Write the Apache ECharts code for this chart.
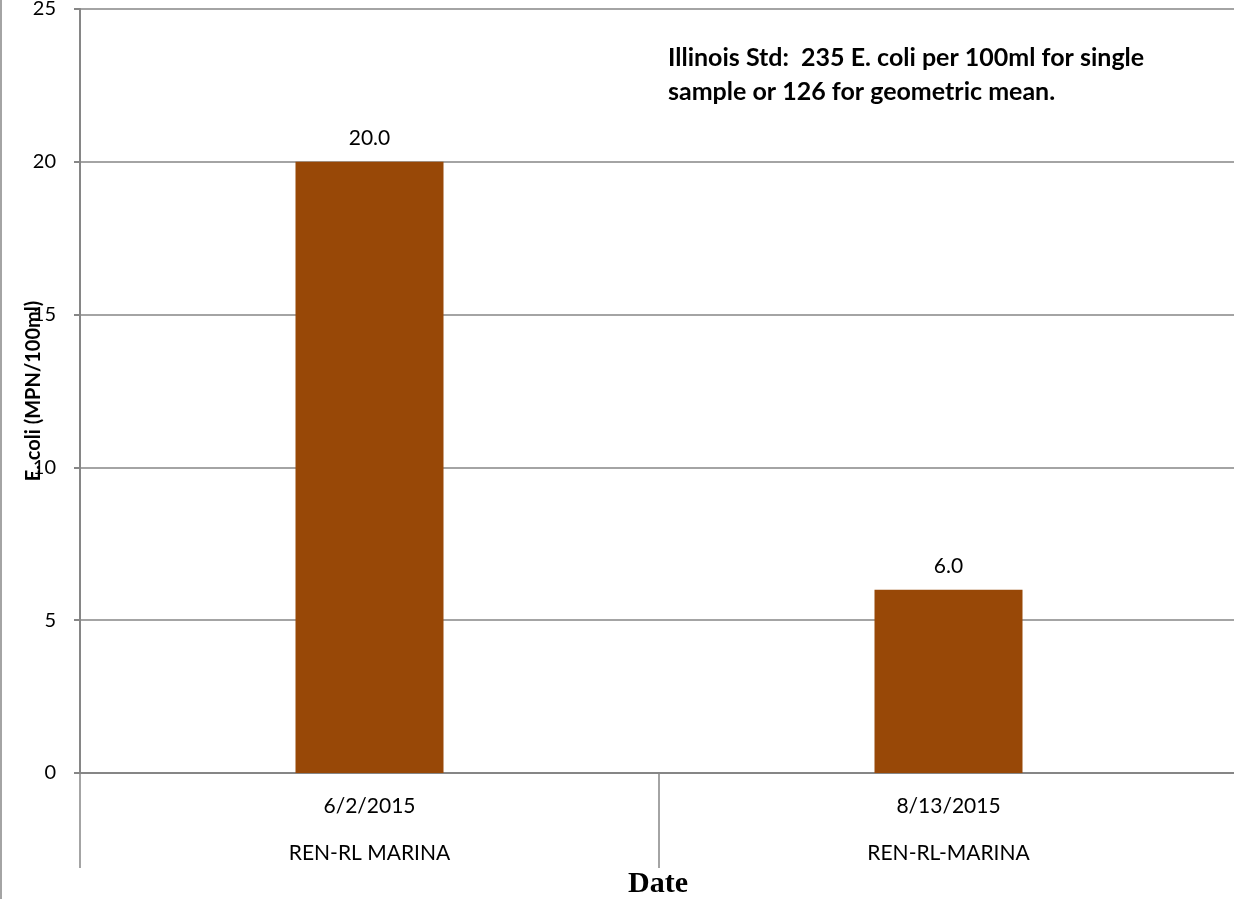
<!DOCTYPE html>
<html>
<head>
<meta charset="utf-8">
<script src="https://cdn.jsdelivr.net/npm/echarts@6/dist/echarts.min.js"></script>
<style>html,body{margin:0;padding:0;background:#fff;}#c{width:1234px;height:899px;}</style>
</head>
<body>
<div id="c"></div>
<script>
const dates = ['6/2/2015', '8/13/2015'];
const sites = ['REN-RL MARINA', 'REN-RL-MARINA'];
const ecoli = [20.0, 6.0];
const yTicks = [0, 5, 10, 15, 20, 25];
const yName = 'E. coli (MPN/100ml)';
const xName = 'Date';
const note = 'Illinois Std:  235 E. coli per 100ml for single\nsample or 126 for geometric mean.';

const font = 'Lato, "Open Sans", sans-serif';
const chart = echarts.init(document.getElementById('c'), null, {renderer: 'canvas'});
chart.setOption({
  animation: false,
  backgroundColor: '#fff',
  grid: {left: 80, right: -4, top: 9, bottom: 126, containLabel: false, outerBoundsMode: 'none'},
  xAxis: {
    type: 'category',
    data: dates,
    axisLine: {show: true, lineStyle: {color: '#868686', width: 2}},
    axisTick: {show: true, interval: 0, alignWithLabel: false, length: 95, lineStyle: {color: '#868686', width: 1.5}},
    axisLabel: {
      interval: 0, margin: 10,
      formatter: (v, i) => '{d|' + v + '}\n{s|' + sites[i] + '}',
      rich: {
        d: {fontFamily: font, fontSize: 21, color: '#000', lineHeight: 47},
        s: {fontFamily: font, fontSize: 21, color: '#000', lineHeight: 47}
      }
    }
  },
  yAxis: {
    type: 'value', min: yTicks[0], max: yTicks[yTicks.length - 1], interval: 5,
    name: yName, nameLocation: 'middle', nameGap: 36, nameRotate: 90, nameMoveOverlap: false,
    nameTextStyle: {fontFamily: font, fontSize: 20, fontWeight: 'bold', color: '#000'},
    axisLine: {show: true, lineStyle: {color: '#868686', width: 2}},
    axisTick: {show: true, length: 6, lineStyle: {color: '#868686', width: 2}},
    axisLabel: {fontFamily: font, fontSize: 20, color: '#000', margin: 24},
    splitLine: {show: true, lineStyle: {color: '#868686', width: 1.5}}
  },
  series: [{
    type: 'bar',
    data: ecoli,
    barWidth: 148,
    itemStyle: {color: '#984807'},
    label: {show: true, position: 'top', distance: 13, fontFamily: font, fontSize: 21, color: '#000',
      formatter: p => p.value.toFixed(1)}
  }],
  graphic: [
    {type: 'line', shape: {x1: 1, y1: 0, x2: 1, y2: 899}, style: {stroke: '#868686', lineWidth: 1.5}},
    {type: 'text', left: 668, top: 41, style: {text: note, fontFamily: font, fontSize: 25, fontWeight: 'bold', fill: '#000', lineHeight: 34}},
    {type: 'text', x: 658, y: 884, style: {text: xName, align: 'center', verticalAlign: 'middle', fontFamily: '"Liberation Serif", "DejaVu Serif", serif', fontSize: 30, fontWeight: 'bold', fill: '#000'}}
  ]
});
</script>
</body>
</html>
